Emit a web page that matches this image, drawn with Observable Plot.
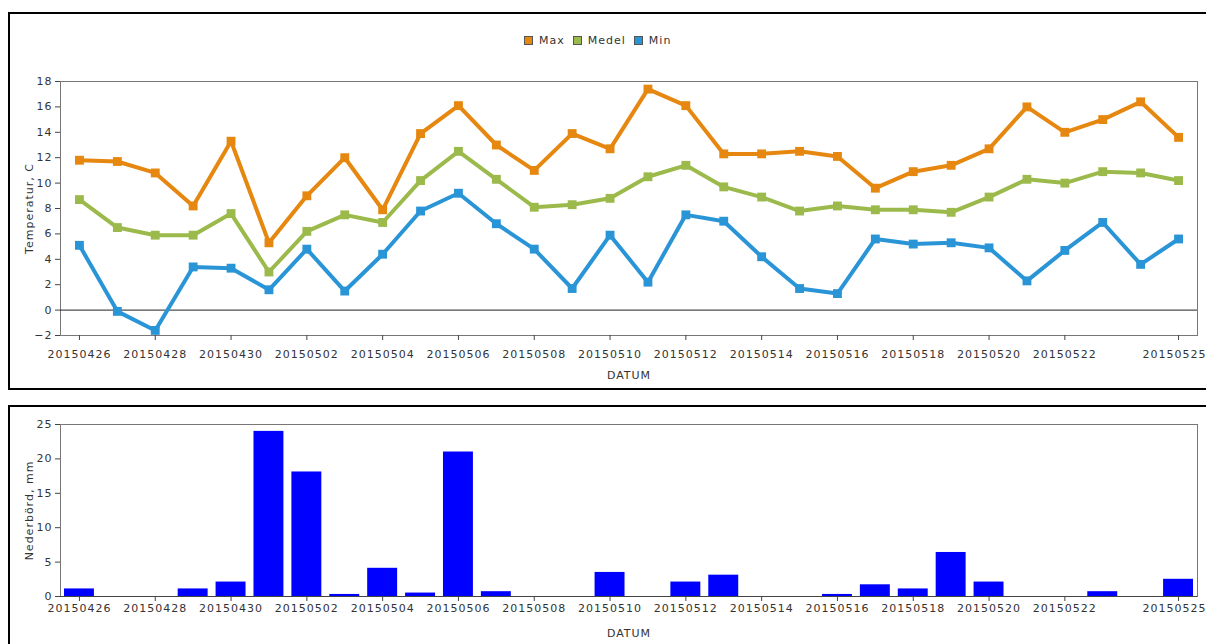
<!DOCTYPE html>
<html>
<head>
<meta charset="utf-8">
<script src="https://cdn.jsdelivr.net/npm/d3@7"></script>
<script src="https://cdn.jsdelivr.net/npm/@observablehq/plot@0.6"></script>
<style>
  html, body { margin: 0; padding: 0; background: #fff; width: 1206px; height: 644px; overflow: hidden; position: relative; }
  .box { position: absolute; border: 2px solid #000; box-sizing: border-box; }
  .chart { position: absolute; left: 0; }
  .legend { position: absolute; top: 34px; left: 524px; display: flex; align-items: center; font-family: "DejaVu Sans", sans-serif; font-size: 11px; letter-spacing: 1px; color: #333; }
  .legend .sw { width: 9px; height: 9px; border: 1px solid #555; box-sizing: border-box; margin-right: 6px; }
  .legend .item { display: flex; align-items: center; margin-right: 8px; }
  svg text { letter-spacing: 1px; }
</style>
</head>
<body>
<div class="box" style="left:8px; top:12px; width:1210px; height:378px;"></div>
<div class="box" style="left:8px; top:405px; width:1210px; height:260px;"></div>
<div id="legend" class="legend"></div>
<div id="top" class="chart" style="top:0px;"></div>
<div id="bottom" class="chart" style="top:389px;"></div>
<script>
const dates = [
  "20150426","20150427","20150428","20150429","20150430",
  "20150501","20150502","20150503","20150504","20150505",
  "20150506","20150507","20150508","20150509","20150510",
  "20150511","20150512","20150513","20150514","20150515",
  "20150516","20150517","20150518","20150519","20150520",
  "20150521","20150522","20150523","20150524","20150525"
];
const maxT = [11.8,11.7,10.8,8.2,13.3, 5.3,9.0,12.0,7.9,13.9, 16.1,13.0,11.0,13.9,12.7, 17.4,16.1,12.3,12.3,12.5, 12.1,9.6,10.9,11.4,12.7, 16.0,14.0,15.0,16.4,13.6];
const medelT = [8.7,6.5,5.9,5.9,7.6, 3.0,6.2,7.5,6.9,10.2, 12.5,10.3,8.1,8.3,8.8, 10.5,11.4,9.7,8.9,7.8, 8.2,7.9,7.9,7.7,8.9, 10.3,10.0,10.9,10.8,10.2];
const minT = [5.1,-0.1,-1.6,3.4,3.3, 1.6,4.8,1.5,4.4,7.8, 9.2,6.8,4.8,1.7,5.9, 2.2,7.5,7.0,4.2,1.7, 1.3,5.6,5.2,5.3,4.9, 2.3,4.7,6.9,3.6,5.6];
const precip = [1.1,0,0,1.1,2.1, 24.0,18.1,0.3,4.1,0.5, 21.0,0.7,0,0,3.5, 0,2.1,3.1,0,0, 0.3,1.7,1.1,6.4,2.1, 0,0,0.7,0,2.5];
const tickDates = ["20150426","20150428","20150430","20150502","20150504","20150506","20150508","20150510","20150512","20150514","20150516","20150518","20150520","20150522","20150525"];
const tempTicks = [-2,0,2,4,6,8,10,12,14,16,18];
const precipTicks = [0,5,10,15,20,25];
const seriesNames = ["Max","Medel","Min"];
const seriesColors = ["#e6870f","#9bba4b","#2a95d6"];

const series = [maxT, medelT, minT];
const temps = [];
series.forEach((vals, s) => vals.forEach((v, i) => temps.push({date: dates[i], value: v, series: seriesNames[s]})));
const rain = dates.map((d, i) => ({date: d, value: precip[i]}));
const lastTick = tickDates[tickDates.length - 1];

// legend
const lg = document.getElementById("legend");
seriesNames.forEach((n, i) => {
  const it = document.createElement("div");
  it.className = "item";
  const sw = document.createElement("div");
  sw.className = "sw";
  sw.style.background = seriesColors[i];
  const tx = document.createElement("span");
  tx.textContent = n;
  it.appendChild(sw); it.appendChild(tx);
  lg.appendChild(it);
});

const fontStyle = {fontFamily: "DejaVu Sans, sans-serif", fontSize: "11px", color: "#333", background: "transparent", overflow: "visible"};

function xAxes(pad, labelOffset) {
  return [
    Plot.axisX({ticks: tickDates, tickSize: 5, tickPadding: pad, stroke: "#444", fill: "#333",
      tickFormat: d => d === lastTick ? "" : d,
      label: "DATUM", labelAnchor: "center", labelArrow: "none", labelOffset}),
    Plot.axisX({ticks: [lastTick], tickSize: 0, tickPadding: pad + 5, dx: -4, fill: "#333", label: null})
  ];
}

const topChart = Plot.plot({
  width: 1206, height: 389,
  marginLeft: 60, marginRight: 9, marginTop: 81, marginBottom: 54,
  style: fontStyle,
  x: {type: "point", domain: dates, padding: 0.5, round: false},
  y: {domain: [-2, 18]},
  color: {domain: seriesNames, range: seriesColors},
  marks: [
    Plot.frame({stroke: "#777", strokeWidth: 1}),
    Plot.ruleY([0], {stroke: "#222", strokeWidth: 1}),
    Plot.line(temps, {x: "date", y: "value", z: "series", stroke: "series", strokeWidth: 4, strokeLinejoin: "miter"}),
    Plot.dot(temps, {x: "date", y: "value", fill: "series", symbol: "square", r: 5, stroke: "none"}),
    ...xAxes(10, 43),
    Plot.axisY({ticks: tempTicks, tickSize: 5, tickPadding: 3, stroke: "#444", fill: "#333", label: "Temperatur, C", labelAnchor: "center", labelArrow: "none", labelOffset: 35})
  ]
});
document.getElementById("top").appendChild(topChart);

const bottomChart = Plot.plot({
  width: 1206, height: 255,
  marginLeft: 60, marginRight: 9, marginTop: 35, marginBottom: 48,
  style: fontStyle,
  x: {type: "band", domain: dates, paddingInner: 0.21, paddingOuter: 0.105, round: false},
  y: {domain: [0, 25]},
  marks: [
    Plot.frame({stroke: "#777", strokeWidth: 1}),
    Plot.barY(rain, {x: "date", y: "value", fill: "#0000ff"}),
    Plot.ruleY([0], {stroke: "#444"}),
    ...xAxes(3, 40),
    Plot.axisY({ticks: precipTicks, tickSize: 5, tickPadding: 3, stroke: "#444", fill: "#333", label: "Nederbörd, mm", labelAnchor: "center", labelArrow: "none", labelOffset: 35})
  ]
});
document.getElementById("bottom").appendChild(bottomChart);
</script>
</body>
</html>
